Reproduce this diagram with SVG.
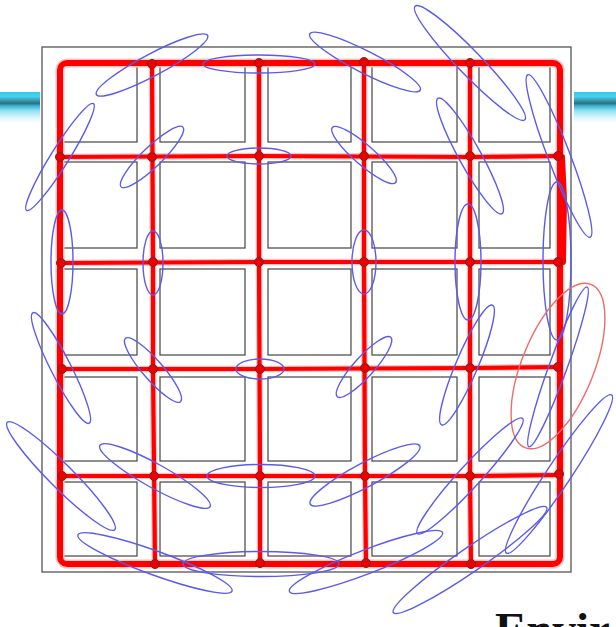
<svg xmlns="http://www.w3.org/2000/svg" width="616" height="627" viewBox="0 0 616 627">
<defs>
<linearGradient id="bar" x1="0" y1="0" x2="0" y2="1">
<stop offset="0" stop-color="#2ec8ea"/>
<stop offset="0.14" stop-color="#47d4f0"/>
<stop offset="0.26" stop-color="#3a9fb6"/>
<stop offset="0.36" stop-color="#2c6f82"/>
<stop offset="0.46" stop-color="#3fb8d4"/>
<stop offset="0.6" stop-color="#8fe0f2"/>
<stop offset="0.8" stop-color="#d4f5fb"/>
<stop offset="1" stop-color="#ffffff"/>
</linearGradient>
<style>
.sq{fill:none;stroke:#444;stroke-width:1.2}
.halo{fill:none;stroke:#ffc4c4;stroke-linecap:round;stroke-linejoin:round}
.rl{fill:none;stroke:#ff0000;stroke-linecap:round;stroke-linejoin:round}
.nd{fill:#ee0000;stroke:#6a2a2a;stroke-width:1}
.el{fill:none;stroke:#5a5af0;stroke-width:1.4}
.re{fill:none;stroke:#f06a6a;stroke-width:1.4}
</style>
</defs>
<rect width="616" height="627" fill="#ffffff"/>
<g id="bars">
<rect x="0" y="92" width="40" height="31" fill="url(#bar)"/>
<rect x="574" y="92" width="42" height="31" fill="url(#bar)"/>
</g>
<g id="map">
<rect x="42" y="47" width="529" height="525" fill="none" stroke="#555" stroke-width="1.3"/>
<rect class="sq" x="62" y="66" width="75" height="76"/>
<rect class="sq" x="160" y="66" width="85" height="76"/>
<rect class="sq" x="268" y="66" width="83" height="76"/>
<rect class="sq" x="372" y="66" width="85" height="76"/>
<rect class="sq" x="479" y="66" width="71" height="76"/>
<rect class="sq" x="62" y="162" width="75" height="86"/>
<rect class="sq" x="160" y="162" width="85" height="86"/>
<rect class="sq" x="268" y="162" width="83" height="86"/>
<rect class="sq" x="372" y="162" width="85" height="86"/>
<rect class="sq" x="479" y="162" width="71" height="86"/>
<rect class="sq" x="62" y="269" width="75" height="86"/>
<rect class="sq" x="160" y="269" width="85" height="86"/>
<rect class="sq" x="268" y="269" width="83" height="86"/>
<rect class="sq" x="372" y="269" width="85" height="86"/>
<rect class="sq" x="479" y="269" width="71" height="86"/>
<rect class="sq" x="62" y="377" width="75" height="84"/>
<rect class="sq" x="160" y="377" width="85" height="84"/>
<rect class="sq" x="268" y="377" width="83" height="84"/>
<rect class="sq" x="372" y="377" width="85" height="84"/>
<rect class="sq" x="479" y="377" width="71" height="84"/>
<rect class="sq" x="62" y="482" width="75" height="74"/>
<rect class="sq" x="160" y="482" width="85" height="74"/>
<rect class="sq" x="268" y="482" width="83" height="74"/>
<rect class="sq" x="372" y="482" width="85" height="74"/>
<rect class="sq" x="479" y="482" width="71" height="74"/>
</g>
<g id="connectors">
<rect class="halo" x="60" y="63" width="500" height="501" rx="7" stroke-width="9"/>
<g class="halo" stroke-width="6.5">
<path d="M60 157 L260 156 L470 157 L560 156"/>
<path d="M61 263 L259 262 L470 262 L560 262"/>
<path d="M62 369 L260 369 L470 368 L560 367"/>
<path d="M62 476 L260 476 L470 476 L560 475"/>
<path d="M152 64 L153 262 L153 369 L155 564"/>
<path d="M259 63 L259 262 L260 476 L260 564"/>
<path d="M364 62 L364 262 L365 476 L366 563"/>
<path d="M470 63 L470 262 L470 476 L471 564"/>
</g>
<rect class="rl" x="60" y="63" width="500" height="501" rx="7" stroke-width="6"/>
<g class="rl" stroke-width="4.2">
<path d="M60 157 L260 156 L470 157 L560 156"/>
<path d="M61 263 L259 262 L470 262 L560 262"/>
<path d="M62 369 L260 369 L470 368 L560 367"/>
<path d="M62 476 L260 476 L470 476 L560 475"/>
<path d="M152 64 L153 262 L153 369 L155 564"/>
<path d="M259 63 L259 262 L260 476 L260 564"/>
<path d="M364 62 L364 262 L365 476 L366 563"/>
<path d="M470 63 L470 262 L470 476 L471 564"/>
<path d="M562 157 L564 200 L563 262" stroke-width="6"/>
</g>
</g>
<g id="nodes">
<circle id="n01" class="nd" cx="152" cy="64" r="4.5"/>
<circle id="n02" class="nd" cx="259" cy="63" r="4.5"/>
<circle id="n03" class="nd" cx="364" cy="62" r="4.5"/>
<circle id="n04" class="nd" cx="470" cy="63" r="4.5"/>
<circle id="n10" class="nd" cx="60" cy="157" r="4.5"/>
<circle id="n11" class="nd" cx="152" cy="157" r="4.5"/>
<circle id="n12" class="nd" cx="259" cy="156" r="4.5"/>
<circle id="n13" class="nd" cx="364" cy="156" r="4.5"/>
<circle id="n14" class="nd" cx="470" cy="156" r="4.5"/>
<circle id="n15" class="nd" cx="558" cy="156" r="4.5"/>
<circle id="n20" class="nd" cx="61" cy="263" r="4.5"/>
<circle id="n21" class="nd" cx="153" cy="262" r="4.5"/>
<circle id="n22" class="nd" cx="259" cy="262" r="4.5" stroke="#3030c0" stroke-width="1.3"/>
<circle id="n23" class="nd" cx="364" cy="262" r="4.5"/>
<circle id="n24" class="nd" cx="470" cy="262" r="4.5"/>
<circle id="n25" class="nd" cx="558" cy="262" r="4.5"/>
<circle id="n30" class="nd" cx="62" cy="369" r="4.5"/>
<circle id="n31" class="nd" cx="153" cy="369" r="4.5"/>
<circle id="n32" class="nd" cx="260" cy="369" r="4.5"/>
<circle id="n33" class="nd" cx="365" cy="368" r="4.5"/>
<circle id="n34" class="nd" cx="470" cy="368" r="4.5"/>
<circle id="n35" class="nd" cx="558" cy="367" r="4.5"/>
<circle id="n40" class="nd" cx="62" cy="476" r="4.5"/>
<circle id="n41" class="nd" cx="154" cy="476" r="4.5"/>
<circle id="n42" class="nd" cx="260" cy="476" r="4.5"/>
<circle id="n43" class="nd" cx="365" cy="476" r="4.5"/>
<circle id="n44" class="nd" cx="470" cy="476" r="4.5"/>
<circle id="n45" class="nd" cx="559" cy="474" r="4.5"/>
<circle id="n51" class="nd" cx="155" cy="564" r="4.5"/>
<circle id="n52" class="nd" cx="260" cy="563" r="4.5"/>
<circle id="n53" class="nd" cx="366" cy="563" r="4.5"/>
<circle id="n54" class="nd" cx="471" cy="564" r="4.5"/>
</g>
<g id="ellipses">
<ellipse class="el" cx="152" cy="65" rx="63" ry="11" transform="rotate(-28 152 65)"/>
<ellipse class="el" cx="259" cy="64" rx="56" ry="9"/>
<ellipse class="el" cx="365" cy="62" rx="62" ry="11" transform="rotate(27 365 62)"/>
<ellipse class="el" cx="470" cy="63" rx="79" ry="12" transform="rotate(46 470 63)"/>
<ellipse class="el" cx="559" cy="156" rx="87" ry="11" transform="rotate(69 559 156)"/>
<ellipse class="el" cx="60" cy="157" rx="63" ry="9" transform="rotate(-58 60 157)"/>
<ellipse class="el" cx="152" cy="157" rx="43" ry="10" transform="rotate(-44 152 157)"/>
<ellipse class="el" cx="259" cy="156" rx="32" ry="8"/>
<ellipse class="el" cx="364" cy="155" rx="42" ry="10" transform="rotate(41 364 155)"/>
<ellipse class="el" cx="470" cy="156" rx="66" ry="11" transform="rotate(61 470 156)"/>
<ellipse class="el" cx="557" cy="261" rx="14" ry="79"/>
<ellipse class="el" cx="62" cy="262" rx="11" ry="52"/>
<ellipse class="el" cx="153" cy="263" rx="10" ry="32"/>
<ellipse class="el" cx="364" cy="262" rx="12" ry="32"/>
<ellipse class="el" cx="468" cy="262" rx="13" ry="58"/>
<ellipse class="el" cx="61" cy="368" rx="62" ry="10" transform="rotate(63 61 368)"/>
<ellipse class="el" cx="153" cy="370" rx="42" ry="10" transform="rotate(49 153 370)"/>
<ellipse class="el" cx="260" cy="369" rx="24" ry="10"/>
<ellipse class="el" cx="364" cy="367" rx="40" ry="10" transform="rotate(-48 364 367)"/>
<ellipse class="el" cx="467" cy="365" rx="65" ry="11" transform="rotate(-67 467 365)"/>
<ellipse class="el" cx="558" cy="367" rx="85" ry="9" transform="rotate(-70 558 367)"/>
<ellipse class="re" cx="558" cy="366" rx="88" ry="36" transform="rotate(-68 558 366)"/>
<ellipse class="el" cx="61" cy="476" rx="76" ry="12" transform="rotate(45 61 476)"/>
<ellipse class="el" cx="155" cy="476" rx="63" ry="12" transform="rotate(29 155 476)"/>
<ellipse class="el" cx="261" cy="476" rx="54" ry="11.5"/>
<ellipse class="el" cx="365" cy="475" rx="62" ry="12" transform="rotate(-28 365 475)"/>
<ellipse class="el" cx="470" cy="476" rx="78" ry="11" transform="rotate(-47.6 470 476)"/>
<ellipse class="el" cx="559" cy="474" rx="95" ry="12" transform="rotate(-56.4 559 474)"/>
<ellipse class="el" cx="155" cy="563" rx="82" ry="12" transform="rotate(20 155 563)"/>
<ellipse class="el" cx="261" cy="564" rx="78" ry="12.5"/>
<ellipse class="el" cx="366" cy="562" rx="82" ry="12" transform="rotate(-21 366 562)"/>
<ellipse class="el" cx="470" cy="560" rx="93" ry="12" transform="rotate(-34.5 470 560)"/>
</g>
<text x="495" y="645" font-family="Liberation Serif, serif" font-size="47" font-weight="bold" fill="#111">Envir</text>
</svg>
